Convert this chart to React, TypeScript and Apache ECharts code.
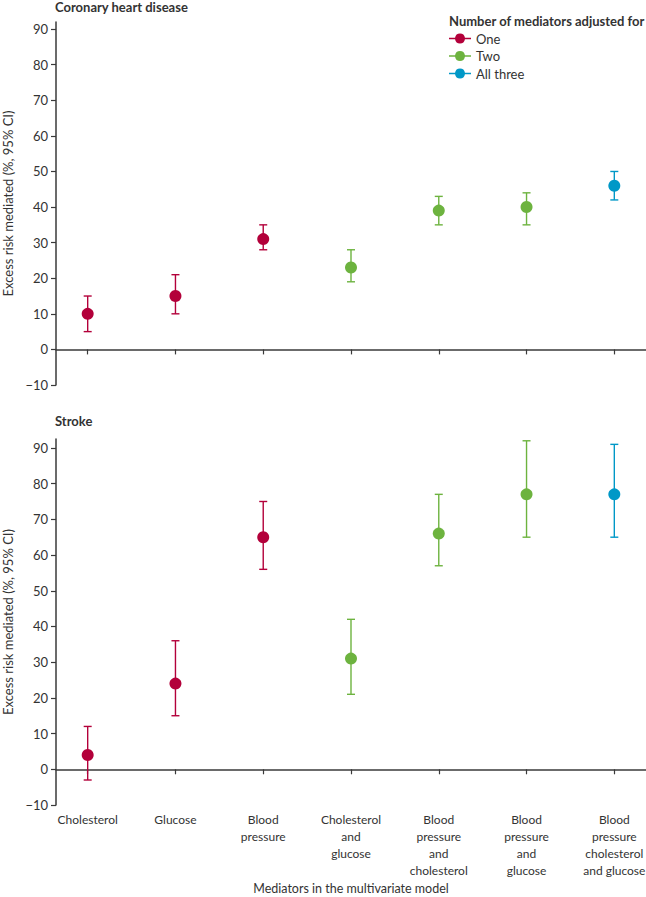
import React, { useEffect, useRef } from "react";
import * as echarts from "echarts";

const categories = [
  "Cholesterol",
  "Glucose",
  "Blood\npressure",
  "Cholesterol\nand\nglucose",
  "Blood\npressure\nand\ncholesterol",
  "Blood\npressure\nand\nglucose",
  "Blood\npressure\ncholesterol\nand glucose",
];
const groupOf = ["One", "One", "One", "Two", "Two", "Two", "All three"];
const groups = ["One", "Two", "All three"];
const groupColors = ["#B3003A", "#6DB33F", "#0098C7"];

const chdEstimate = [10, 15, 31, 23, 39, 40, 46];
const chdLower = [5, 10, 28, 19, 35, 35, 42];
const chdUpper = [15, 21, 35, 28, 43, 44, 50];

const strokeEstimate = [4, 24, 65, 31, 66, 77, 77];
const strokeLower = [-3, 15, 56, 21, 57, 65, 65];
const strokeUpper = [12, 36, 75, 42, 77, 92, 91];

const yTicks = [-10, 0, 10, 20, 30, 40, 50, 60, 70, 80, 90];
const xTicks = [0, 1, 2, 3, 4, 5, 6];

const FONT = "Lato";
const TEXT = "#333333";
const AXIS = "#3a3a3a";

const legendIcon =
  "path://M0,4.75 L6.06,4.75 A5,5 0 0 1 15.94,4.75 L22,4.75 L22,6.25 L15.94,6.25 A5,5 0 0 1 6.06,6.25 L0,6.25 Z";

export default function App() {
  const ref = useRef<HTMLDivElement>(null);

  useEffect(() => {
    if (!ref.current) return;
    const chart = echarts.init(ref.current, undefined, { renderer: "svg" });

    const panels = [
      { est: chdEstimate, lo: chdLower, hi: chdUpper },
      { est: strokeEstimate, lo: strokeLower, hi: strokeUpper },
    ];

    const series: any[] = [];
    panels.forEach((p, pi) => {
      groups.forEach((g, gi) => {
        const idx = categories.map((_, i) => i).filter((i) => groupOf[i] === g);
        series.push({
          type: "custom",
          name: `ci-${pi}-${g}`,
          xAxisIndex: pi,
          yAxisIndex: pi,
          z: 2,
          silent: true,
          data: idx.map((i) => [i, p.lo[i], p.hi[i]]),
          renderItem: (params: any, api: any) => {
            const x = api.value(0);
            const lo = api.coord([x, api.value(1)]);
            const hi = api.coord([x, api.value(2)]);
            const hw = 4;
            const style = { stroke: groupColors[gi], lineWidth: 1.4, fill: "none" };
            return {
              type: "group",
              children: [
                { type: "line", shape: { x1: lo[0], y1: lo[1], x2: hi[0], y2: hi[1] }, style },
                { type: "line", shape: { x1: lo[0] - hw, y1: lo[1], x2: lo[0] + hw, y2: lo[1] }, style },
                { type: "line", shape: { x1: hi[0] - hw, y1: hi[1], x2: hi[0] + hw, y2: hi[1] }, style },
              ],
            };
          },
        });
        series.push({
          type: "scatter",
          name: g,
          xAxisIndex: pi,
          yAxisIndex: pi,
          z: 3,
          symbol: "circle",
          symbolSize: 12,
          itemStyle: { color: groupColors[gi], opacity: 1 },
          data: idx.map((i) => [i, p.est[i]]),
        });
      });
    });

    const makeX = (gi: number, showLabels: boolean) => ({
      type: "value",
      gridIndex: gi,
      min: -0.361,
      max: 6.361,
      axisLine: { show: true, lineStyle: { color: AXIS, width: 1.5 } },
      axisTick: {
        show: true,
        customValues: xTicks,
        length: 5,
        lineStyle: { color: AXIS, width: 1.2 },
      },
      splitLine: { show: false },
      axisLabel: {
        show: showLabels,
        customValues: xTicks,
        formatter: (v: number) => categories[Math.round(v)] ?? "",
        color: TEXT,
        fontFamily: FONT,
        fontSize: 12,
        lineHeight: 17,
        margin: 6,
        align: "center",
        verticalAlign: "top",
      },
      name: showLabels ? "Mediators in the multivariate model" : "",
      nameLocation: "middle",
      nameGap: 77,
      nameTextStyle: { color: TEXT, fontFamily: FONT, fontSize: 12.5 },
    });

    const makeY = (gi: number, max: number) => ({
      type: "value",
      gridIndex: gi,
      min: -10,
      max,
      interval: 10,
      axisLine: { show: true, onZero: false, lineStyle: { color: AXIS, width: 1.5 } },
      axisTick: {
        show: true,
        customValues: yTicks,
        length: 5,
        lineStyle: { color: AXIS, width: 1.2 },
      },
      splitLine: { show: false },
      axisLabel: {
        customValues: yTicks,
        color: TEXT,
        fontFamily: FONT,
        fontSize: 13,
        margin: 8,
        formatter: (v: number) => (v < 0 ? "\u2212" + Math.abs(v) : String(v)),
      },
      name: "Excess risk mediated (%, 95% CI)",
      nameLocation: "middle",
      nameGap: 42,
      nameRotate: 90,
      nameTextStyle: { color: TEXT, fontFamily: FONT, fontSize: 13 },
    });

    chart.setOption({
      animation: false,
      backgroundColor: "#ffffff",
      textStyle: { fontFamily: FONT },
      title: [
        {
          text: "Coronary heart disease",
          left: 55,
          top: 0,
          padding: 0,
          textStyle: { color: TEXT, fontFamily: FONT, fontSize: 13, fontWeight: "bold" },
        },
        {
          text: "Stroke",
          left: 55,
          top: 414,
          padding: 0,
          textStyle: { color: TEXT, fontFamily: FONT, fontSize: 13, fontWeight: "bold" },
        },
        {
          text: "Number of mediators adjusted for",
          left: 449,
          top: 14,
          padding: 0,
          textStyle: { color: TEXT, fontFamily: FONT, fontSize: 13, fontWeight: "bold" },
        },
      ],
      legend: {
        data: groups,
        orient: "vertical",
        left: 449,
        top: 32,
        padding: 0,
        itemGap: 4.5,
        itemWidth: 22,
        itemHeight: 11,
        icon: legendIcon,
        textStyle: { color: TEXT, fontFamily: FONT, fontSize: 13, padding: [0, 0, 0, 0] },
        selectedMode: false,
      },
      grid: [
        { left: 56, right: 0, top: 22, height: 363, outerBoundsMode: "none", containLabel: false },
        { left: 56, right: 0, top: 439, height: 366, outerBoundsMode: "none", containLabel: false },
      ],
      xAxis: [makeX(0, false), makeX(1, true)],
      yAxis: [makeY(0, 92), makeY(1, 92.5)],
      series,
    });

    return () => chart.dispose();
  }, []);

  return (
    <div
      ref={ref}
      style={{ position: "fixed", left: 0, top: 0, width: 646, height: 897, background: "#fff" }}
    />
  );
}
